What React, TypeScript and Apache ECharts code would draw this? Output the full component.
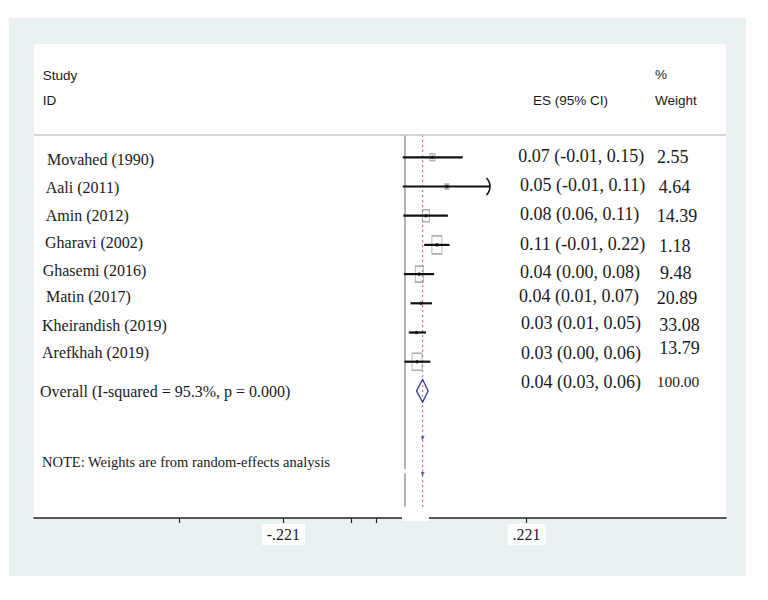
import React, { useEffect, useRef } from 'react';
import * as echarts from 'echarts';

// ---------- data ----------
const studies = ['Movahed (1990)', 'Aali (2011)', 'Amin (2012)', 'Gharavi (2002)', 'Ghasemi (2016)', 'Matin (2017)', 'Kheirandish (2019)', 'Arefkhah (2019)'];
const esLabels = ['0.07 (-0.01, 0.15)', '0.05 (-0.01, 0.11)', '0.08 (0.06, 0.11)', '0.11 (-0.01, 0.22)', '0.04 (0.00, 0.08)', '0.04 (0.01, 0.07)', '0.03 (0.01, 0.05)', '0.03 (0.00, 0.06)'];
const weightLabels = ['2.55', '4.64', '14.39', '1.18', '9.48', '20.89', '33.08', '13.79'];
// plotted positions (axis units)
const estimates = [0.050, 0.076, 0.038, 0.058, 0.026, 0.029, 0.021, 0.022];
const lowerCI = [-0.004, -0.004, -0.003, 0.035, -0.002, 0.010, 0.007, -0.001];
const upperCI = [0.105, 0.1545, 0.078, 0.081, 0.053, 0.049, 0.038, 0.046];
const clipped = [false, true, false, false, false, false, false, false];
const overallLabel = 'Overall (I-squared = 95.3%, p = 0.000)';
const overallES = '0.04 (0.03, 0.06)';
const overallWeight = '100.00';
const overallValues = [0.021, 0.042, 0.032]; // lo, hi, est
const nullValue = 0;
const tickLabelValues = [-0.221, 0.221];
const minorTickValues = [-0.411, -0.098, -0.053];
const noteText = 'NOTE: Weights are from random-effects analysis';
const headerLeft = ['Study', 'ID'];
const headerES = 'ES (95% CI)';
const headerWeight = ['%', 'Weight'];

// ---------- layout / style ----------
const boxSizes = [[5, 7], [4, 5], [7, 12], [10, 18], [8, 16], [0, 0], [0, 0], [10, 17]];
const studyX = [47, 45.7, 45.7, 45, 42.7, 46, 42, 42];
const studyY = [159.3, 187.3, 215, 242.7, 270, 296.7, 325, 352.3];
const esX = [518.3, 520, 520, 520, 520, 519, 521, 521];
const esY = [156, 185, 214.3, 244, 271.7, 295.7, 323.3, 352.7];
const wX = [657, 658.7, 656.7, 659, 660, 656.7, 659.3, 659.3];
const wY = [156.7, 187.3, 216, 246, 272.7, 298, 325, 348];

const X_MIN = -0.67455;
const X_MAX = 0.58364;
const Y_MIN = -0.764;
const Y_MAX = 12.353;
const SERIF = '"Liberation Serif", "Times New Roman", serif';
const SANS = '"Liberation Sans", Arial, sans-serif';
const INK = '#1a1a1a';

function txt(text: string, x: number, y: number, size: number, family: string, align = 'left') {
  return {
    type: 'text',
    silent: true,
    z: 50,
    style: {
      text, x, y, fontSize: size, fontFamily: family, fill: INK,
      textAlign: align, textVerticalAlign: 'middle', verticalAlign: 'middle',
    },
  };
}

export default function App() {
  const ref = useRef<HTMLDivElement>(null);
  useEffect(() => {
    if (!ref.current) return;
    const chart = echarts.init(ref.current, undefined, { renderer: 'svg' });

    const graphics: any[] = [
      { type: 'rect', silent: true, z: -20, shape: { x: 9, y: 18, width: 737, height: 558 }, style: { fill: '#e9f1f3' } },
      { type: 'rect', silent: true, z: -10, shape: { x: 34, y: 44, width: 692, height: 474 }, style: { fill: '#ffffff' } },
      { type: 'line', silent: true, z: 40, shape: { x1: 34, y1: 135, x2: 726, y2: 135 }, style: { stroke: '#c6c6c6', lineWidth: 1.5 } },
      { type: 'rect', silent: true, z: 100, shape: { x: 402, y: 513, width: 27, height: 8 }, style: { fill: '#ffffff' } },
      txt(headerLeft[0], 42.7, 75, 13.5, SANS),
      txt(headerLeft[1], 42.7, 100.7, 13.5, SANS),
      txt(headerES, 608, 100.7, 13.5, SANS, 'right'),
      txt(headerWeight[0], 655, 74, 13.5, SANS),
      txt(headerWeight[1], 655, 100.7, 13.5, SANS),
    ];
    studies.forEach((s, i) => graphics.push(txt(s, studyX[i], studyY[i], 16, SERIF)));
    esLabels.forEach((s, i) => graphics.push(txt(s, esX[i], esY[i], 18, SERIF)));
    weightLabels.forEach((s, i) => graphics.push(txt(s, wX[i], wY[i], 18, SERIF)));
    graphics.push(txt(overallLabel, 40, 391.7, 16, SERIF));
    graphics.push(txt(overallES, 521, 381.7, 18, SERIF));
    graphics.push(txt(overallWeight, 656.7, 381.7, 15.5, SERIF));
    graphics.push(txt(noteText, 42, 462, 14.5, SERIF));

    const ciData = studies.map((_, i) => [lowerCI[i], upperCI[i], i, clipped[i] ? 1 : 0]);
    const boxData = studies.map((_, i) => ({ value: [estimates[i], i], symbolSize: boxSizes[i] }));
    const dotData = studies.map((_, i) => [estimates[i], i]);
    const overallRow = studies.length;

    const option: any = {
      animation: false,
      backgroundColor: '#ffffff',
      grid: { left: 34, right: 42, top: 135, bottom: 82, containLabel: false, outerBoundsMode: 'none' },
      xAxis: {
        type: 'value',
        min: X_MIN,
        max: X_MAX,
        splitLine: { show: false },
        axisLine: { show: true, onZero: false, lineStyle: { color: '#222', width: 1.6 } },
        axisTick: { show: true, length: 5, customValues: [...minorTickValues, ...tickLabelValues], lineStyle: { color: '#222', width: 1.2 } },
        axisLabel: {
          customValues: tickLabelValues,
          formatter: (v: number) => (v < 0 ? '-' : '') + Math.abs(v).toFixed(3).replace(/^0/, ''),
          fontFamily: SERIF,
          fontSize: 16,
          color: INK,
          backgroundColor: '#ffffff',
          padding: [3, 5, 3, 5],
          lineHeight: 15,
          margin: 6,
        },
      },
      yAxis: {
        type: 'value',
        min: Y_MIN,
        max: Y_MAX,
        inverse: true,
        show: false,
        splitLine: { show: false },
      },
      graphic: { elements: graphics },
      series: [
        {
          type: 'line',
          name: 'null',
          data: [[nullValue, Y_MIN], [nullValue, 10.685], [nullValue, '-'], [nullValue, 10.822], [nullValue, 11.966]],
          connectNulls: false,
          symbol: 'none',
          lineStyle: { color: '#b3b3b3', width: 2 },
          z: 3,
          silent: true,
        },
        {
          type: 'line',
          name: 'overall line',
          data: [[overallValues[2], Y_MIN], [overallValues[2], 12.08]],
          symbol: 'none',
          lineStyle: { color: '#dc7080', width: 1.2, type: [2, 3] },
          z: 3,
          silent: true,
        },
        {
          type: 'scatter',
          name: 'boxes',
          data: boxData,
          symbol: 'rect',
          itemStyle: { color: 'rgba(0,0,0,0)', borderColor: '#9a9a9a', borderWidth: 1.2 },
          z: 4,
          silent: true,
        },
        {
          type: 'custom',
          name: 'ci',
          data: ciData,
          encode: { x: [0, 1], y: 2 },
          z: 5,
          silent: true,
          renderItem: (params: any, api: any) => {
            const y = api.value(2);
            const a = api.coord([api.value(0), y]);
            const b = api.coord([api.value(1), y]);
            const children: any[] = [
              { type: 'line', shape: { x1: a[0], y1: a[1], x2: b[0], y2: b[1] }, style: { stroke: '#111', lineWidth: 2.2 } },
            ];
            if (api.value(3) === 1) {
              const r = 12;
              children.push({
                type: 'arc',
                shape: { cx: b[0] - r, cy: b[1], r, startAngle: -Math.PI / 4, endAngle: Math.PI / 4, clockwise: true },
                style: { stroke: '#111', lineWidth: 1.6, fill: 'none' },
              });
            }
            return { type: 'group', children };
          },
        },
        {
          type: 'scatter',
          name: 'points',
          data: dotData,
          symbol: 'circle',
          symbolSize: 3.6,
          itemStyle: { color: '#111' },
          z: 6,
          silent: true,
        },
        {
          type: 'custom',
          name: 'overall',
          data: [[overallValues[0], overallValues[1], overallValues[2], overallRow]],
          encode: { x: [0, 1, 2], y: 3 },
          z: 6,
          silent: true,
          renderItem: (params: any, api: any) => {
            const y = api.value(3);
            const l = api.coord([api.value(0), y]);
            const r = api.coord([api.value(1), y]);
            const c = api.coord([api.value(2), y]);
            const h = 11.5;
            return {
              type: 'polygon',
              shape: { points: [[l[0], l[1]], [c[0], c[1] - h], [r[0], r[1]], [c[0], c[1] + h]] },
              style: { fill: 'none', stroke: '#3b3b9e', lineWidth: 1.3 },
            };
          },
        },
        {
          type: 'scatter',
          name: 'marks',
          data: [[overallValues[2], 9.62], [overallValues[2], 10.85]],
          symbol: 'triangle',
          symbolRotate: 180,
          symbolSize: 4,
          itemStyle: { color: '#3b3b9e' },
          z: 6,
          silent: true,
        },
      ],
    };
    chart.setOption(option);
    return () => chart.dispose();
  }, []);
  return <div ref={ref} style={{ position: 'fixed', left: 0, top: 0, width: 768, height: 600 }} />;
}
